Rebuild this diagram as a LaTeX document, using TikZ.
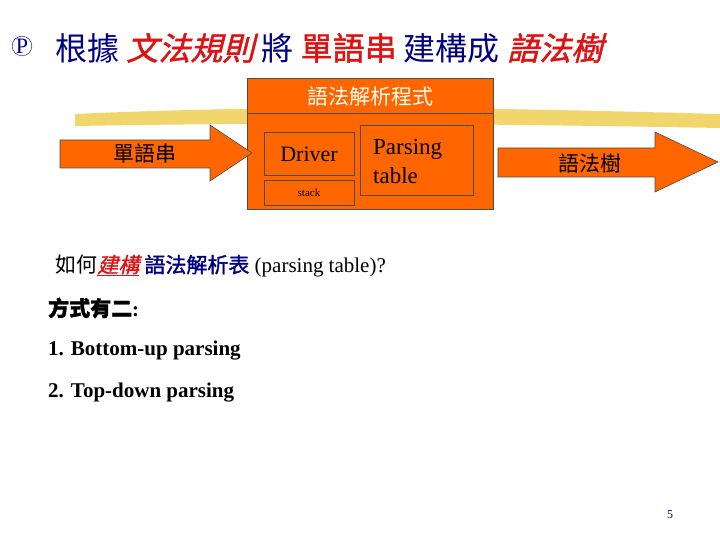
\documentclass[tikz,border=0pt]{standalone}
\usepackage{fontspec}
\setmainfont{Liberation Serif}
\newfontfamily\cjk{Noto Sans CJK TC}
\newfontfamily\cjkit[FakeSlant=0.25,FakeBold=1.5]{Noto Sans CJK TC}
\newfontfamily\cjkb[FakeBold=1.5]{Noto Sans CJK TC}
\definecolor{navy}{RGB}{0,0,128}
\definecolor{myred}{RGB}{220,20,20}
\definecolor{myorange}{RGB}{255,102,0}
\definecolor{brush}{RGB}{235,200,60}
\tikzset{box/.style={draw=black!70,fill=myorange,line width=0.6pt},
  arr/.style={draw=black!70,fill=myorange,line width=0.6pt},
  txt/.style={anchor=west,inner sep=0pt,font=\fontsize{21}{24}\selectfont}}
\begin{document}
\begin{tikzpicture}[x=1pt,y=-1pt]
\useasboundingbox (0,0) rectangle (720,540);
% brush stroke
\fill[brush,opacity=0.75] (75,114) .. controls (300,104) and (500,108) .. (720,114) -- (720,128) .. controls (500,124) and (300,122) .. (75,126) -- cycle;
% title
\node[draw=navy,circle,inner sep=0.3pt,text=navy,font=\fontsize{22}{24}\selectfont] (p) at (22,46) {P};
\node[txt,font=\fontsize{32}{36}\selectfont] (title) at (55,48) {\cjk\color{navy}根據 {\color{myred}\cjkit 文法規則} 將 {\color{myred}\cjkb 單語串} 建構成 {\color{myred}\cjkit 語法樹}};
% main box
\draw[box] (247,78) rectangle (493,209);
\draw[black!70,line width=0.6pt] (247,113) -- (493,113);
\node[text=white!95!yellow,font=\cjk\fontsize{21}{24}\selectfont] (hdr) at (370,97) {語法解析程式};
\node[box,minimum width=90pt,minimum height=43pt,font=\fontsize{22}{24}\selectfont] (drv) at (309,154) {Driver};
\node[box,minimum width=90pt,minimum height=25pt,font=\fontsize{11}{12}\selectfont] (stk) at (309,193) {stack};
\node[box,minimum width=113pt,minimum height=70pt] (pt) at (417,160) {};
\node[anchor=north west,align=left,inner sep=0pt,font=\fontsize{23}{29}\selectfont] (ptt) at (373,139) {Parsing\\table};
% arrows
\draw[arr] (60,140) -- (210,140) -- (210,125) -- (252,153) -- (210,181) -- (210,168) -- (60,168) -- cycle;
\node[font=\cjk\fontsize{21}{24}\selectfont] (in) at (145,153) {單語串};
\draw[arr] (498,148) -- (655,148) -- (655,132) -- (718,162) -- (655,192) -- (655,177) -- (498,177) -- cycle;
\node[font=\cjk\fontsize{21}{24}\selectfont] (out) at (590,163) {語法樹};
% text lines
\node[txt] (l1) at (55,266) {{\cjk 如何}{\color{myred}\cjkit\underline{建構}} {\color{navy}\cjkb 語法解析表} (parsing table)?};
\node[txt,font=\fontsize{21}{24}\selectfont\bfseries] (l2) at (48,308) {{\cjkb 方式有二}:};
\node[txt,font=\fontsize{21}{24}\selectfont\bfseries] (l3) at (48,351) {1. Bottom-up parsing};
\node[txt,font=\fontsize{21}{24}\selectfont\bfseries] (l4) at (48,393) {2. Top-down parsing};
\node[text=navy,font=\fontsize{12}{13}\selectfont] (pg) at (670,515) {5};
\end{tikzpicture}
\end{document}
